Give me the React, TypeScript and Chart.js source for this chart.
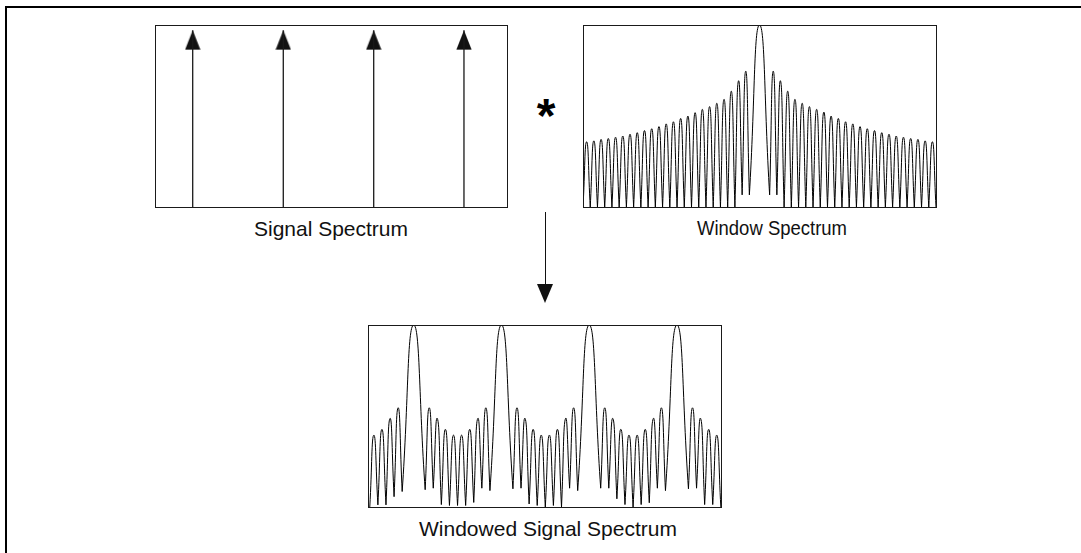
import React, { useEffect, useRef } from 'react';
import { Chart, registerables } from 'chart.js';

Chart.register(...registerables);

// ---------- Signal Spectrum: four pure tones (arrows) ----------
const signalFreqs = [4.67, 15.89, 27.09, 38.27];
const signalAmps = [1, 1, 1, 1];

// ---------- Window Spectrum (dB) ----------
// zero crossings (bins), level reached at each zero, and peak level of each lobe
const windowZeros = [
  -24.4, -23.4, -22.4, -21.4, -20.4, -19.4, -18.4, -17.4, -16.4, -15.4, -14.4, -13.4,
  -12.4, -11.4, -10.4, -9.4, -8.4, -7.4, -6.4, -5.4, -4.4, -3.4, -2.4, -1.4,
  1.4, 2.4, 3.4, 4.4, 5.4, 6.4, 7.4, 8.4, 9.4, 10.4, 11.4, 12.4,
  13.4, 14.4, 15.4, 16.4, 17.4, 18.4, 19.4, 20.4, 21.4, 22.4, 23.4, 24.4,
];
const windowDipDb = [
  -60, -60, -60, -60, -60, -60, -60, -60, -60, -60, -60, -60,
  -60, -60, -60, -60, -60, -60, -60, -60, -60, -60, -56, -56,
  -56, -56, -60, -60, -60, -60, -60, -60, -60, -60, -60, -60,
  -60, -60, -60, -60, -60, -60, -60, -60, -60, -60, -60, -60,
];
const windowPeakDb = [
  -38.5, -38.2, -37.7, -37.4, -37.0, -36.6, -36.0, -35.5, -34.8, -34.2, -33.5, -32.6,
  -31.9, -30.8, -30.0, -28.9, -27.8, -26.9, -25.8, -24.5, -21.8, -18.4, -15.2,
  0,
  -15.2, -18.4, -21.8, -24.5, -25.8, -26.9, -27.8, -28.7, -30.0, -30.8, -31.9, -32.6,
  -33.5, -34.2, -34.8, -35.5, -36.0, -36.6, -37.0, -37.4, -37.7, -38.2, -38.5,
];

// ---------- Windowed Signal Spectrum (dB) ----------
const windowedZeros = [
  0.22, 1.22, 2.22, 3.22, 4.22,
  7.06, 8.06, 9.06, 10.06, 11.06, 12.06, 13.06, 14.06, 15.06,
  17.9, 18.9, 19.9, 20.9, 21.9, 22.9, 23.9, 24.9, 25.9,
  28.74, 29.74, 30.74, 31.74, 32.74, 33.74, 34.74, 35.74, 36.74,
  39.58, 40.58, 41.58, 42.58, 43.58,
];
const windowedDipDb = [
  -60, -59.3, -59.3, -56.6, -54.9,
  -54.3, -53.8, -59.2, -59.5, -59.5, -59.5, -58.5, -53.8, -54.6,
  -54.0, -53.8, -59.0, -59.5, -60, -59.5, -60, -53.8, -54.6,
  -53.8, -53.8, -57.3, -59.2, -60, -59.2, -58.6, -53.8, -54.6,
  -54.0, -53.8, -59.2, -59.2, -60,
];
const windowedPeakDb = [
  -36.3, -34.4, -30.8, -27.3,
  0,
  -27.3, -30.8, -34.4, -36.3, -36.3, -34.4, -30.8, -27.3,
  0,
  -27.3, -30.8, -34.4, -36.3, -36.3, -34.4, -30.8, -27.3,
  0,
  -27.3, -30.8, -34.4, -36.3, -36.3, -34.4, -30.8, -27.3,
  0,
  -27.3, -30.8, -34.4, -36.3,
];

const FONT = "'Liberation Sans', Arial, Helvetica, sans-serif";

// each lobe: zero -> peak -> zero, separated by gaps so cusps stay sharp
function lobePoints(zeros: number[], dips: number[], peaks: number[]) {
  const pts: { x: number; y: number | null }[] = [];
  for (let i = 0; i < peaks.length; i++) {
    const mid = (zeros[i] + zeros[i + 1]) / 2;
    pts.push({ x: zeros[i], y: dips[i] });
    pts.push({ x: mid, y: peaks[i] });
    pts.push({ x: zeros[i + 1], y: dips[i + 1] });
    pts.push({ x: zeros[i + 1], y: null });
  }
  return pts;
}

const framePlugin = {
  id: 'frame',
  afterDatasetsDraw(chart: any) {
    const { ctx, chartArea } = chart;
    const l = Math.floor(chartArea.left);
    const t = Math.floor(chartArea.top);
    const r = Math.floor(chartArea.right);
    const b = Math.floor(chartArea.bottom);
    ctx.save();
    ctx.strokeStyle = '#1a1a1a';
    ctx.lineWidth = 1;
    ctx.strokeRect(l + 0.5, t + 0.5, r - l, b - t);
    ctx.restore();
  },
};

function baseOptions(xMin: number, xMax: number, yMin: number, yMax: number) {
  return {
    animation: false,
    responsive: false,
    events: [],
    layout: { padding: 4, autoPadding: false },
    plugins: {
      legend: { display: false },
      tooltip: { enabled: false },
      title: { display: false },
    },
    scales: {
      x: { type: 'linear', min: xMin, max: xMax, display: false },
      y: { type: 'linear', min: yMin, max: yMax, display: false },
    },
  };
}

function makeHead() {
  const c = document.createElement('canvas');
  c.width = 16;
  c.height = 40;
  const g = c.getContext('2d')!;
  g.fillStyle = '#111';
  g.beginPath();
  g.moveTo(8, 20);
  g.lineTo(15.7, 39.5);
  g.lineTo(0.3, 39.5);
  g.closePath();
  g.fill();
  return c;
}

function signalConfig(): any {
  const stems: { x: number; y: number | null }[] = [];
  signalFreqs.forEach((f, i) => {
    stems.push({ x: f, y: 0 }, { x: f, y: signalAmps[i] }, { x: f, y: null });
  });
  const heads = signalFreqs.map((f, i) => ({ x: f, y: signalAmps[i] }));
  return {
    type: 'line',
    data: {
      datasets: [
        { data: stems, borderColor: '#1a1a1a', borderWidth: 1.3, pointRadius: 0, tension: 0, spanGaps: false },
        { data: heads, showLine: false, pointStyle: makeHead(), pointRadius: 8, clip: false },
      ],
    },
    options: baseOptions(0, 43.6, 0, 1.03),
    plugins: [framePlugin],
  };
}

function spectrumConfig(zeros: number[], dips: number[], peaks: number[], xMin: number, xMax: number): any {
  return {
    type: 'line',
    data: {
      datasets: [
        {
          data: lobePoints(zeros, dips, peaks),
          borderColor: '#000',
          borderWidth: 1,
          pointRadius: 0,
          tension: 0.55,
          spanGaps: false,
          fill: false,
        },
      ],
    },
    options: baseOptions(xMin, xMax, -60, 0),
    plugins: [framePlugin],
  };
}

function ChartBox(props: { left: number; top: number; width: number; height: number; make: () => any }) {
  const ref = useRef<HTMLCanvasElement | null>(null);
  useEffect(() => {
    const chart = new Chart(ref.current as HTMLCanvasElement, props.make());
    return () => chart.destroy();
  }, []);
  return (
    <canvas
      ref={ref}
      width={props.width}
      height={props.height}
      style={{ position: 'absolute', left: props.left, top: props.top, width: props.width, height: props.height }}
    />
  );
}

function Label(props: { cx: number; top: number; text: string; squeeze?: number }) {
  return (
    <div
      style={{
        position: 'absolute',
        left: props.cx - 200,
        top: props.top,
        width: 400,
        textAlign: 'center',
        fontFamily: FONT,
        fontSize: 21,
        lineHeight: '21px',
        color: '#111',
        whiteSpace: 'nowrap',
        transform: props.squeeze ? `scaleX(${props.squeeze})` : undefined,
        transformOrigin: '50% 50%',
      }}
    >
      {props.text}
    </div>
  );
}

export default function App() {
  return (
    <div
      style={{
        position: 'absolute',
        left: 0,
        top: 0,
        width: 1081,
        height: 553,
        overflow: 'hidden',
        background: '#fff',
      }}
    >
      <div
        style={{
          position: 'absolute',
          left: 5,
          top: 6,
          width: 1200,
          height: 700,
          borderLeft: '2px solid #000',
          borderTop: '2px solid #000',
        }}
      />
      <ChartBox left={151} top={21} width={360} height={190} make={signalConfig} />
      <ChartBox
        left={579}
        top={21}
        width={361}
        height={190}
        make={() => spectrumConfig(windowZeros, windowDipDb, windowPeakDb, -24.4, 24.4)}
      />
      <ChartBox
        left={364}
        top={321}
        width={361}
        height={190}
        make={() => spectrumConfig(windowedZeros, windowedDipDb, windowedPeakDb, 0, 43.6)}
      />
      <Label cx={331} top={218} text="Signal Spectrum" />
      <Label cx={772} top={217} squeeze={0.88} text="Window Spectrum" />
      <Label cx={548} top={517.5} text="Windowed Signal Spectrum" />
      <div
        style={{
          position: 'absolute',
          left: 516,
          top: 92,
          width: 60,
          textAlign: 'center',
          fontFamily: FONT,
          fontWeight: 'bold',
          fontSize: 48,
          lineHeight: '48px',
          color: '#000',
        }}
      >
        *
      </div>
      <div style={{ position: 'absolute', left: 545, top: 212, width: 1, height: 76, background: '#111' }} />
      <div
        style={{
          position: 'absolute',
          left: 537,
          top: 284,
          width: 0,
          height: 0,
          borderLeft: '8px solid transparent',
          borderRight: '8px solid transparent',
          borderTop: '19px solid #111',
        }}
      />
    </div>
  );
}
